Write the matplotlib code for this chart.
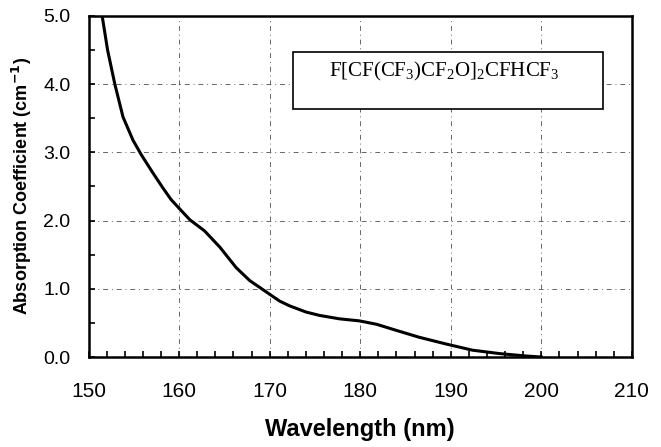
import matplotlib
matplotlib.use("Agg")
import matplotlib.pyplot as plt
from matplotlib.patches import Rectangle
from matplotlib.ticker import MultipleLocator

# absorption curve
wavelength = [151.5, 152.1, 152.9, 153.8, 154.9, 155.8, 157.0, 158.2, 159.1, 160.0,
              161.2, 162.8, 164.5, 166.3, 167.8, 170.0, 171.1, 172.2, 174.0, 175.5,
              177.7, 179.9, 181.8, 184.0, 186.5, 189.5, 192.4, 195.4, 198.3, 200.0]
absorb = [5.0, 4.5, 4.0, 3.52, 3.18, 2.97, 2.72, 2.48, 2.31, 2.18,
          2.01, 1.85, 1.61, 1.31, 1.12, 0.92, 0.82, 0.75, 0.66, 0.61,
          0.56, 0.53, 0.48, 0.39, 0.29, 0.19, 0.10, 0.05, 0.015, 0.0]

x_ticks = [150, 160, 170, 180, 190, 200, 210]
y_ticks = [0.0, 1.0, 2.0, 3.0, 4.0, 5.0]
label = r"F[CF(CF$_3$)CF$_2$O]$_2$CFHCF$_3$"

plt.rcParams["font.family"] = ["Liberation Sans", "DejaVu Sans"]
plt.rcParams["mathtext.fontset"] = "custom"
plt.rcParams["mathtext.rm"] = "Liberation Serif"

fig = plt.figure(figsize=(6.61, 4.47), dpi=100)
ax = fig.add_axes([0.134, 0.2013, 0.822, 0.763])

ax.plot(wavelength, absorb, color="black", lw=2.2, solid_joinstyle="round", zorder=3)

ax.set_xlim(150, 210)
ax.set_ylim(0, 5)
ax.set_xticks(x_ticks)
ax.set_yticks(y_ticks)
ax.set_yticklabels([f"{v:.1f}" for v in y_ticks])
ax.xaxis.set_minor_locator(MultipleLocator(2))
ax.yaxis.set_minor_locator(MultipleLocator(0.5))
ax.tick_params(axis="both", which="both", direction="in", length=4, width=1.2,
               colors="black")
ax.tick_params(axis="x", which="major", pad=18, labelsize=15)
ax.tick_params(axis="y", which="major", pad=13, labelsize=14)

for s in ax.spines.values():
    s.set_linewidth(1.8)
    s.set_color("black")

ax.grid(True, which="major", color="0.4", lw=0.7, linestyle=(0, (5, 4, 1, 4)))
ax.set_axisbelow(True)

ax.set_xlabel("Wavelength (nm)", fontsize=17, fontweight="bold", labelpad=12)
ax.set_ylabel("Absorption Coefficient (cm$^{\\mathbf{-1}}$)", fontsize=13, fontweight="bold",
              labelpad=7)

# label box
box = Rectangle((0.376, 0.727), 0.570, 0.167, transform=ax.transAxes,
                facecolor="white", edgecolor="black", lw=1.2, zorder=4)
ax.add_patch(box)
ax.text(0.654, 0.836, label, transform=ax.transAxes, ha="center", va="center",
        fontsize=15, fontfamily="Liberation Serif", zorder=5)

fig.savefig("out.png", dpi=100)
